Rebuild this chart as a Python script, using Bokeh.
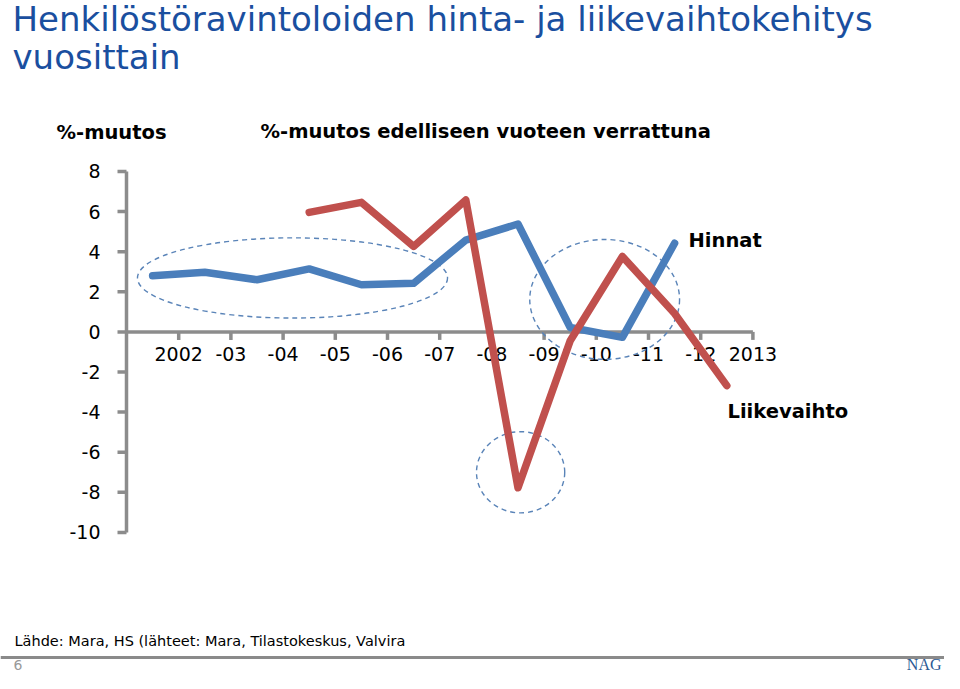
from bokeh.plotting import figure
from bokeh.models import Range1d
from bokeh.core.properties import value
from bokeh.embed import file_html
from bokeh.resources import INLINE

# ---------------- data ----------------
year_labels = ["2002", "-03", "-04", "-05", "-06", "-07", "-08", "-09", "-10", "-11", "-12", "2013"]
hinnat_idx = [0, 1, 2, 3, 4, 5, 6, 7, 8, 9, 10]
hinnat = [2.8, 2.97, 2.6, 3.14, 2.35, 2.42, 4.58, 5.38, 0.22, -0.27, 4.42]
liikevaihto_idx = [3, 4, 5, 6, 7, 8, 9, 10, 11]
liikevaihto = [5.96, 6.46, 4.26, 6.58, -7.77, -0.44, 3.76, 0.92, -2.68]
y_ticks = [-10, -8, -6, -4, -2, 0, 2, 4, 6, 8]
# highlight ellipses: centre index, centre value, width (categories), height (%)
ell_x = [2.68, 8.66, 7.05]
ell_y = [2.69, 1.62, -7.0]
ell_w = [5.94, 2.87, 1.69]
ell_h = [4.0, 5.98, 4.05]

# ---------------- layout helpers (canvas pixels -> data) ----------------
W, H = 944, 673
SX = 52.2        # px per category
X_AX = 126.0     # px of the value axis (x = -0.5)
Y_ZERO = 331.4   # px of value 0
SY = 20.056      # px per percent


def dx(px):
    return (px - X_AX) / SX - 0.5


def dy(py):
    return (Y_ZERO - py) / SY


p = figure(width=W, height=H, output_backend="svg", toolbar_location=None,
           x_range=Range1d(dx(0), dx(W)), y_range=Range1d(dy(H), dy(0)),
           x_axis_type=None, y_axis_type=None, min_border=0)
p.outline_line_color = None
p.title.visible = False
p.background_fill_color = "white"
p.border_fill_color = "white"

FONT = value("DejaVu Sans")
AXIS_C = "#8c8c8c"

# ---- value axis ----
p.segment(x0=[-0.5], y0=[min(y_ticks)], x1=[-0.5], y1=[max(y_ticks)],
          line_color=AXIS_C, line_width=3.5)
p.segment(x0=[-0.5 - 9 / SX] * len(y_ticks), y0=y_ticks,
          x1=[-0.5] * len(y_ticks), y1=y_ticks, line_color=AXIS_C, line_width=3.5)
p.text(x=[dx(100)] * len(y_ticks), y=y_ticks, text=[str(t) for t in y_ticks],
       text_align="right", text_baseline="middle", text_font=FONT,
       text_font_size="19px", text_color="black")

# ---- category axis at 0 ----
cat_ticks = [i + 0.5 for i in range(len(year_labels))]
p.segment(x0=[-0.5], y0=[0], x1=[cat_ticks[-1]], y1=[0],
          line_color=AXIS_C, line_width=3.5)
p.segment(x0=cat_ticks, y0=[0] * len(cat_ticks), x1=cat_ticks,
          y1=[-8 / SY] * len(cat_ticks), line_color=AXIS_C, line_width=3.5)
p.text(x=cat_ticks, y=[dy(353.5)] * len(cat_ticks), text=year_labels,
       text_align="center", text_baseline="middle", text_font=FONT,
       text_font_size="19px", text_color="black")

# ---- highlight ellipses ----
p.ellipse(x=ell_x, y=ell_y, width=ell_w, height=ell_h, fill_color=None,
          line_color="#5a84b8", line_width=1.4, line_dash="5 4")

# ---- series ----
p.line(hinnat_idx, hinnat, line_color="#4a7ebb", line_width=7.5,
       line_cap="round", line_join="round")
p.line(liikevaihto_idx, liikevaihto, line_color="#c0504d", line_width=7.5,
       line_cap="round", line_join="round")

# ---- texts (positioned by their visual centre line) ----
p.text(x=[dx(12), dx(12)], y=[dy(18), dy(56)],
       text=["Henkilöstöravintoloiden hinta- ja liikevaihtokehitys", "vuosittain"],
       text_align="left", text_baseline="middle", text_font=FONT,
       text_font_size="34px", text_color="#1a4f9f")
p.text(x=[dx(56), dx(260)], y=[dy(132), dy(131)],
       text=["%-muutos", "%-muutos edelliseen vuoteen verrattuna"],
       text_align="left", text_baseline="middle", text_font=FONT,
       text_font_style="bold", text_font_size="19.5px", text_color="black")
p.text(x=[dx(688), dx(727)], y=[dy(239.5), dy(410.5)], text=["Hinnat", "Liikevaihto"],
       text_align="left", text_baseline="middle", text_font=FONT,
       text_font_style="bold", text_font_size="19.5px", text_color="black")
p.text(x=[dx(14)], y=[dy(640)],
       text=["Lähde: Mara,  HS (lähteet: Mara, Tilastokeskus, Valvira"],
       text_align="left", text_baseline="middle", text_font=FONT,
       text_font_size="14.5px", text_color="black")

# footer rule, page number, logo
p.segment(x0=[dx(0)], y0=[dy(657)], x1=[dx(W)], y1=[dy(657)],
          line_color="#8a8a8a", line_width=3)
p.text(x=[dx(13)], y=[dy(664)], text=["6"], text_align="left",
       text_baseline="middle", text_font=FONT, text_font_size="14px",
       text_color="#999999")
p.text(x=[dx(941)], y=[dy(664)], text=["NAG"], text_align="right",
       text_baseline="middle", text_font=value("Liberation Serif"),
       text_font_size="16px", text_color="#2a5a94")

open("out.html", "w").write(file_html(p, INLINE))
